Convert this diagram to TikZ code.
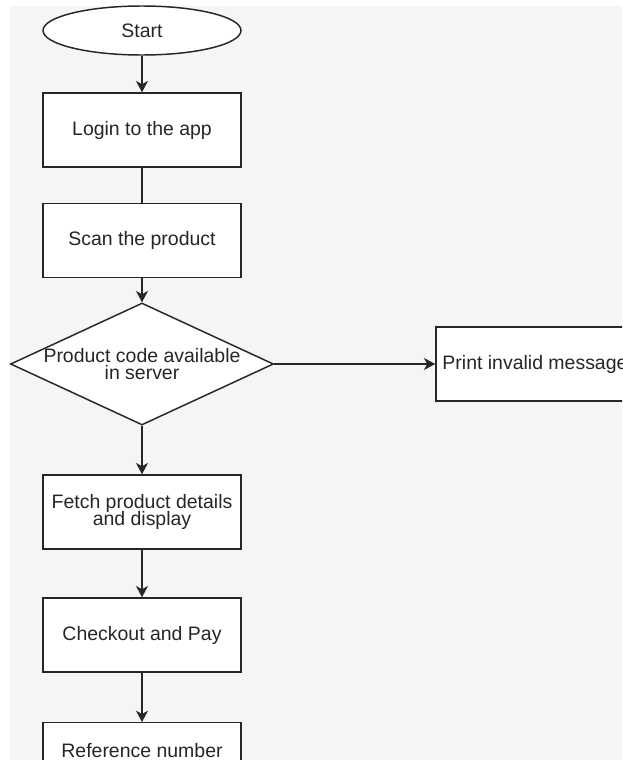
\documentclass[tikz,border=0pt]{standalone}
\usepackage{fontspec}
\setmainfont{Liberation Sans}
\usetikzlibrary{shapes.geometric,arrows.meta}
\definecolor{canvas}{RGB}{245,245,245}
\definecolor{ink}{RGB}{38,38,38}
\newcommand\chartfont{\fontsize{14.6}{13.1}\selectfont\lineskiplimit -5pt\relax}

\begin{document}
\begin{tikzpicture}[x=0.75pt,y=-0.75pt,font=\chartfont,text=ink,
  terminal/.style={ellipse,draw=ink,fill=white,line width=1.1pt,inner sep=0pt,minimum width=148.5pt,minimum height=36.75pt},
  process/.style={rectangle,draw=ink,fill=white,line width=1.1pt,align=center,minimum width=148.5pt,minimum height=55.5pt},
  decision/.style={diamond,draw=ink,fill=white,line width=1.1pt,inner sep=0pt,minimum width=197.25pt,minimum height=91.5pt},
  flow/.style={draw=ink,line width=1.1pt,-{Stealth[length=8.5pt,width=9pt,inset=2.5pt]}},
  link/.style={draw=ink,line width=1.1pt}]
\useasboundingbox (0,0) rectangle (622,760);
\clip (0,0) rectangle (622,760);
\fill[canvas] (10,6) rectangle (622,760);
\node[terminal] (start) at (142,30.5) {Start};
\node[process] (login) at (142,130) {Login to the app};
\node[process] (scan) at (142,240.5) {Scan the product};
\node[decision] (check) at (142,364) {\makebox[0pt]{\parbox{180pt}{\centering Product code available\\in server}}};
\node[process] (print) at (535,364) {Print invalid message};
\node[process] (fetch) at (142,512) {Fetch product details\\and display};
\node[process] (pay) at (142,635) {Checkout and Pay};
\node[process,anchor=north,minimum height=42pt] (refno) at (142,722) {Reference number};
\draw[flow] (start) -- (login);
\draw[link] (login) -- (scan);
\draw[flow] (scan) -- (check);
\draw[flow] (check) -- (print);
\draw[flow] (check) -- (fetch);
\draw[flow] (fetch) -- (pay);
\draw[flow] (pay) -- (refno);
\end{tikzpicture}
\end{document}
